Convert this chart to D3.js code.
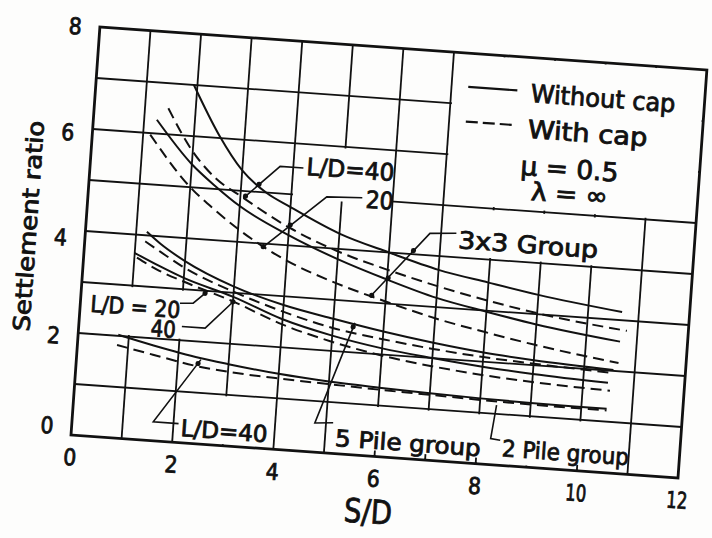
<!DOCTYPE html>
<html>
 <head>
  <meta charset="utf-8" />
  <title>Settlement ratio vs S/D</title>
  <script src="https://cdn.jsdelivr.net/npm/d3@7"></script>
  <style>
    body { margin: 0; background: #fff; }
    text { font-family: "DejaVu Sans Condensed", "DejaVu Sans", sans-serif; fill: #111;
           stroke: #111; stroke-width: 0.8px; }
  </style>
 </head>

 <body>
  <script>
    // values (S/D, settlement ratio)
    var sdTicks    = [0, 2, 4, 6, 8, 10, 12],
        ratioTicks = [0, 2, 4, 6, 8];

    // 3x3 group
    var g9Ld40NoCap = [[1.93,7.0],[2.5,6.05],[3,5.4],[3.5,5.0],[4,4.75],[5,4.3],[6,4.0],[7,3.73],[8,3.55],[9,3.38],[10.67,3.16]];
    var g9Ld40Cap   = [[1.46,6.51],[2,5.7],[2.5,5.2],[3,4.9],[4,4.35],[5,3.95],[6,3.66],[7,3.41],[8,3.2],[9,3.02],[10.79,2.8]];
    var g9Ld20NoCap = [[1.25,6.27],[2,5.45],[2.5,5.05],[3,4.7],[4,4.2],[5,3.8],[6,3.47],[7,3.18],[8,2.98],[9,2.8],[10.67,2.58]];
    var g9Ld20Cap   = [[1.14,5.97],[2,5.0],[2.5,4.6],[3,4.25],[3.5,3.95],[4,3.7],[5,3.33],[6,3.04],[7,2.78],[8,2.58],[9,2.4],[10.67,2.16]];

    // 5 pile group
    var g5Ld20NoCap = [[1.21,4.07],[1.5,3.85],[2,3.55],[3,3.12],[4,2.83],[5,2.63],[6,2.45],[7,2.3],[8,2.18],[9,2.1],[10.58,2.02]];
    var g5Ld20Cap   = [[1.19,3.88],[1.5,3.7],[2,3.42],[3,3.02],[4,2.7],[5,2.45],[6,2.3],[7,2.18],[8,2.09],[9,2.03],[10.55,1.96]];
    var g5Ld40NoCap = [[1.0,3.64],[1.5,3.42],[2,3.22],[3,2.92],[4,2.55],[5,2.3],[6,2.12],[7,2.0],[8,1.9],[9,1.83],[10.49,1.76]];
    var g5Ld40Cap   = [[1.05,3.55],[1.5,3.33],[2,3.15],[3,2.83],[4,2.45],[5,2.18],[6,1.98],[7,1.84],[8,1.74],[9,1.67],[10.54,1.61]];

    // 2 pile group
    var g2Ld40NoCap = [[0.79,2.02],[1.5,1.86],[2.43,1.68],[3,1.6],[4,1.48],[5,1.4],[6,1.35],[7,1.31],[8,1.28],[9,1.26],[10.5,1.25]];
    var g2Ld40Cap   = [[0.78,1.82],[1.5,1.68],[2.43,1.51],[3,1.45],[4,1.39],[5,1.35],[6,1.31],[7,1.28],[8,1.25],[9,1.23],[10.5,1.22]];

    var curves = [
      {pts: g9Ld40NoCap, dash: false}, {pts: g9Ld40Cap, dash: true},
      {pts: g9Ld20NoCap, dash: false}, {pts: g9Ld20Cap, dash: true},
      {pts: g5Ld20NoCap, dash: false}, {pts: g5Ld20Cap, dash: true},
      {pts: g5Ld40NoCap, dash: false}, {pts: g5Ld40Cap, dash: true},
      {pts: g2Ld40NoCap, dash: false}, {pts: g2Ld40Cap, dash: true}
    ];

    // page is a slightly rotated scan
    var w = 608.5, h = 409,
        ox = 71, oy = 435, tilt = 4.05,
        x = d3.scaleLinear().domain([0, 12]).range([0, w]),
        y = d3.scaleLinear().domain([0, 8]).range([0, -h]);

    var svg = d3.select("body")
        .append("svg")
        .attr("width", 712)
        .attr("height", 538);

    svg.append("rect").attr("width", 712).attr("height", 538).attr("fill", "#fdfdfc");

    var g = svg.append("g")
        .attr("transform", "translate(" + ox + "," + oy + ") rotate(" + tilt + ")");

    // grid every unit
    g.selectAll("line.vx")
      .data(d3.range(1, 12))
      .enter().append("line")
        .attr("x1", function(d) { return x(d); })
        .attr("x2", function(d) { return x(d); })
        .attr("y1", y(0)).attr("y2", y(8))
        .attr("stroke", "#111").attr("stroke-width", 1.8);

    g.selectAll("line.hy")
      .data(d3.range(1, 8))
      .enter().append("line")
        .attr("y1", function(d) { return y(d); })
        .attr("y2", function(d) { return y(d); })
        .attr("x1", x(0)).attr("x2", x(12))
        .attr("stroke", "#111").attr("stroke-width", 1.8);

    // blank cells behind the lettering: [x0, x1, y0, y1]
    var blanks = [[7, 12, 5, 8], [7, 11, 4, 5], [4, 6, 4.9, 6], [0, 2.12, 2, 3], [2, 4, 0, 1], [5, 11, 0, 1]];
    g.selectAll("rect.blank")
      .data(blanks)
      .enter().append("rect")
        .attr("x", function(d) { return x(d[0]) + 1.6; })
        .attr("y", function(d) { return y(d[3]) + 1.6; })
        .attr("width", function(d) { return x(d[1]) - x(d[0]) - 3.2; })
        .attr("height", function(d) { return y(d[2]) - y(d[3]) - 3.2; })
        .attr("fill", "#fdfdfc");

    // short ticks left standing under the labels
    g.selectAll("line.tk")
      .data([6, 7, 8, 10])
      .enter().append("line")
        .attr("x1", function(d) { return x(d); })
        .attr("x2", function(d) { return x(d); })
        .attr("y1", y(0)).attr("y2", y(0) - 6)
        .attr("stroke", "#111").attr("stroke-width", 1.8);

    // frame
    g.append("rect")
        .attr("x", x(0)).attr("y", y(8))
        .attr("width", x(12) - x(0)).attr("height", y(0) - y(8))
        .attr("fill", "none").attr("stroke", "#111").attr("stroke-width", 2.8);

    var line = d3.line()
        .x(function(d) { return x(d[0]); })
        .y(function(d) { return y(d[1]); })
        .curve(d3.curveMonotoneX);

    g.selectAll("path.curve")
      .data(curves)
      .enter().append("path")
        .attr("d", function(d) { return line(d.pts); })
        .attr("fill", "none")
        .attr("stroke", "#111")
        .attr("stroke-width", 2)
        .attr("stroke-dasharray", function(d) { return d.dash ? "11,6" : null; });

    // axes (labels only)
    var xAxis = g.append("g")
        .call(d3.axisBottom(x).tickValues(sdTicks).tickSize(0).tickPadding(14));
    xAxis.select(".domain").remove();

    var yAxis = g.append("g")
        .call(d3.axisLeft(y).tickValues(ratioTicks).tickSize(0).tickPadding(18));
    yAxis.select(".domain").remove();

    g.selectAll(".tick text")
        .attr("font-family", null)
        .style("font-size", "23px")
        .attr("textLength", function(d) { return d < 10 ? 13 : 21; })
        .attr("lengthAdjust", "spacingAndGlyphs");
    xAxis.attr("font-size", null);
    yAxis.attr("font-size", null);

    // hand lettering on the y axis sits a little off the ticks
    var yLabelNudge = {0: -8, 2: 4, 4: 8, 6: 5, 8: 1};
    yAxis.selectAll(".tick text")
        .attr("y", function(d) { return yLabelNudge[d]; });

    g.append("text")
        .attr("transform", "translate(-49," + y(4.02) + ") rotate(-90)")
        .attr("text-anchor", "middle")
        .attr("textLength", 211).attr("lengthAdjust", "spacingAndGlyphs")
        .style("font-size", "23px")
        .text("Settlement ratio");

    g.append("text")
        .attr("x", x(5.95)).attr("y", 67)
        .attr("text-anchor", "middle")
        .attr("textLength", 48).attr("lengthAdjust", "spacingAndGlyphs")
        .style("font-size", "33px")
        .text("S/D");

    // legend samples
    g.append("line")
        .attr("x1", x(7.33)).attr("x2", x(8.3))
        .attr("y1", y(7.34)).attr("y2", y(7.34))
        .attr("stroke", "#111").attr("stroke-width", 2.2);
    g.append("line")
        .attr("x1", x(7.33)).attr("x2", x(8.25))
        .attr("y1", y(6.66)).attr("y2", y(6.66))
        .attr("stroke", "#111").attr("stroke-width", 2.2)
        .attr("stroke-dasharray", "12,5");

    // lettering: [text, x, y, width px, font px]
    var notes = [
      ["Without cap", 8.57, 7.13, 145, 25],
      ["With  cap",   8.56, 6.43, 120, 25],
      ["\u03bc = 0.5",  8.47, 5.70, 98, 26],
      ["\u03bb = \u221e", 8.71, 5.22, 77, 25],
      ["L/D=40",      4.26, 5.40, 88, 24],
      ["20",          5.47, 4.84, 28, 24],
      ["3x3 Group",   7.35, 4.18, 140, 24],
      ["L/D = 20",    0.2,  2.43, 90, 23],
      ["40",          1.42, 2.04, 25, 23],
      ["L/D=40",      2.15, 0.13, 87, 23],
      ["5 Pile group", 5.2, 0.15, 146, 23],
      ["2 Pile group", 8.5, 0.18, 127, 23]
    ];

    g.selectAll("text.note")
      .data(notes)
      .enter().append("text")
        .attr("x", function(d) { return x(d[1]); })
        .attr("y", function(d) { return y(d[2]); })
        .attr("textLength", function(d) { return d[3]; })
        .attr("lengthAdjust", "spacingAndGlyphs")
        .style("font-size", function(d) { return d[4] + "px"; })
        .text(function(d) { return d[0]; });

    // leader lines from the lettering to the curves
    var leaders = [
      [[4.2, 5.53], [3.74, 5.53], [3.06, 4.86]],
      [[5.4, 5.03], [4.7, 5.0], [3.49, 3.91]],
      [[7.3, 4.47], [6.78, 4.43], [5.69, 3.11]],
      [[1.96, 2.72], [2.22, 2.74], [2.44, 2.95]],
      [[2.03, 2.27], [2.49, 2.27], [3.01, 2.83]],
      [[2.1, 0.37], [1.6, 0.37], [2.45, 1.65]],
      [[5.14, 0.6], [4.78, 0.57], [5.43, 2.58]],
      [[8.45, 0.49], [8.26, 0.51], [8.33, 1.17]]
    ];
    var arrowAt = [[3.35, 5.15], [3.1, 4.9], [4.02, 4.4], [3.52, 3.94], [6.48, 4.07],
                   [6.02, 3.5], [5.72, 3.14], [2.44, 2.95], [3.0, 2.82], [2.4, 1.57], [5.4, 2.5]];

    var leaderLine = d3.line()
        .x(function(d) { return x(d[0]); })
        .y(function(d) { return y(d[1]); });

    g.selectAll("path.leader")
      .data(leaders)
      .enter().append("path")
        .attr("d", leaderLine)
        .attr("fill", "none")
        .attr("stroke", "#111")
        .attr("stroke-width", 1.6);

    g.selectAll("circle.arrow")
      .data(arrowAt)
      .enter().append("circle")
        .attr("cx", function(d) { return x(d[0]); })
        .attr("cy", function(d) { return y(d[1]); })
        .attr("r", 2.6)
        .attr("fill", "#111");
  </script>
 </body>
</html>
